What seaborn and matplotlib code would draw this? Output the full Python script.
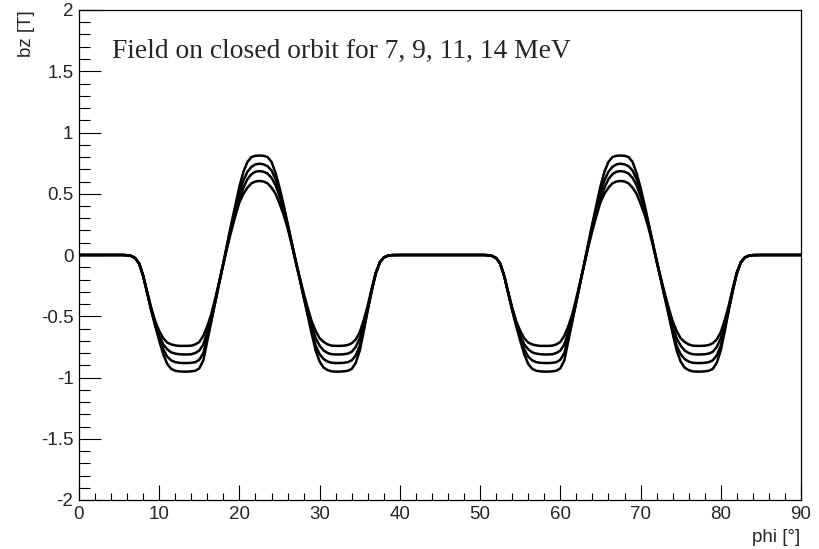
import numpy as np
import pandas as pd
import matplotlib
matplotlib.use("Agg")
import matplotlib.pyplot as plt
from matplotlib.ticker import MultipleLocator
import seaborn as sns

# Azimuthal sampling (deg): two identical 45-degree sectors
phi = np.concatenate([
    [0, 2, 4, 5], np.arange(5.5, 39.01, 0.5), [40, 42],
    [45, 47, 49, 50], np.arange(50.5, 84.01, 0.5), [85, 87],
    [90],
])

energies = ["7 MeV", "9 MeV", "11 MeV", "14 MeV"]

bz_7 = [
    0, 0, 0, 0, 0, -0.002, -0.008, -0.025, -0.07, -0.17, -0.30, -0.43, -0.54, -0.62,
    -0.68, -0.715, -0.73, -0.738, -0.742, -0.742, -0.742, -0.74, -0.73, -0.71, -0.66,
    -0.58, -0.48, -0.35, -0.21, -0.07, 0.07, 0.20, 0.32, 0.43, 0.50, 0.55, 0.585, 0.60,
    0.605, 0.60, 0.585, 0.55, 0.50, 0.42, 0.33, 0.22, 0.09, -0.05, -0.18, -0.31, -0.43,
    -0.54, -0.62, -0.68, -0.71, -0.73, -0.74, -0.742, -0.742, -0.74, -0.735, -0.72,
    -0.69, -0.63, -0.53, -0.41, -0.27, -0.14, -0.06, -0.02, -0.006, -0.001, 0, 0,
    0, 0, 0, 0, 0, -0.002, -0.008, -0.025, -0.07, -0.17, -0.30, -0.43, -0.54, -0.62,
    -0.68, -0.715, -0.73, -0.738, -0.742, -0.742, -0.742, -0.74, -0.73, -0.71, -0.66,
    -0.58, -0.48, -0.35, -0.21, -0.07, 0.07, 0.20, 0.32, 0.43, 0.50, 0.55, 0.585, 0.60,
    0.605, 0.60, 0.585, 0.55, 0.50, 0.42, 0.33, 0.22, 0.09, -0.05, -0.18, -0.31, -0.43,
    -0.54, -0.62, -0.68, -0.71, -0.73, -0.74, -0.742, -0.742, -0.74, -0.735, -0.72,
    -0.69, -0.63, -0.53, -0.41, -0.27, -0.14, -0.06, -0.02, -0.006, -0.001, 0, 0,
    0,
]

bz_9 = [
    0, 0, 0, 0, 0, -0.002, -0.008, -0.025, -0.07, -0.17, -0.31, -0.44, -0.56, -0.66,
    -0.73, -0.77, -0.795, -0.805, -0.81, -0.812, -0.812, -0.81, -0.80, -0.78, -0.73,
    -0.63, -0.51, -0.37, -0.22, -0.07, 0.08, 0.22, 0.35, 0.46, 0.55, 0.62, 0.66, 0.68,
    0.685, 0.68, 0.665, 0.63, 0.57, 0.48, 0.37, 0.24, 0.10, -0.05, -0.19, -0.33, -0.46,
    -0.58, -0.68, -0.74, -0.78, -0.80, -0.81, -0.812, -0.812, -0.81, -0.805, -0.79,
    -0.75, -0.68, -0.57, -0.43, -0.28, -0.15, -0.06, -0.02, -0.006, -0.001, 0, 0,
    0, 0, 0, 0, 0, -0.002, -0.008, -0.025, -0.07, -0.17, -0.31, -0.44, -0.56, -0.66,
    -0.73, -0.77, -0.795, -0.805, -0.81, -0.812, -0.812, -0.81, -0.80, -0.78, -0.73,
    -0.63, -0.51, -0.37, -0.22, -0.07, 0.08, 0.22, 0.35, 0.46, 0.55, 0.62, 0.66, 0.68,
    0.685, 0.68, 0.665, 0.63, 0.57, 0.48, 0.37, 0.24, 0.10, -0.05, -0.19, -0.33, -0.46,
    -0.58, -0.68, -0.74, -0.78, -0.80, -0.81, -0.812, -0.812, -0.81, -0.805, -0.79,
    -0.75, -0.68, -0.57, -0.43, -0.28, -0.15, -0.06, -0.02, -0.006, -0.001, 0, 0,
    0,
]

bz_11 = [
    0, 0, 0, 0, 0, -0.002, -0.008, -0.025, -0.07, -0.17, -0.31, -0.45, -0.57, -0.68,
    -0.77, -0.83, -0.86, -0.875, -0.88, -0.882, -0.882, -0.88, -0.875, -0.855, -0.80,
    -0.67, -0.53, -0.38, -0.22, -0.07, 0.09, 0.24, 0.38, 0.51, 0.61, 0.68, 0.72, 0.74,
    0.745, 0.74, 0.725, 0.69, 0.62, 0.52, 0.39, 0.25, 0.10, -0.05, -0.19, -0.34, -0.48,
    -0.62, -0.74, -0.81, -0.85, -0.87, -0.88, -0.882, -0.882, -0.88, -0.875, -0.86,
    -0.82, -0.74, -0.60, -0.44, -0.29, -0.15, -0.06, -0.02, -0.006, -0.001, 0, 0,
    0, 0, 0, 0, 0, -0.002, -0.008, -0.025, -0.07, -0.17, -0.31, -0.45, -0.57, -0.68,
    -0.77, -0.83, -0.86, -0.875, -0.88, -0.882, -0.882, -0.88, -0.875, -0.855, -0.80,
    -0.67, -0.53, -0.38, -0.22, -0.07, 0.09, 0.24, 0.38, 0.51, 0.61, 0.68, 0.72, 0.74,
    0.745, 0.74, 0.725, 0.69, 0.62, 0.52, 0.39, 0.25, 0.10, -0.05, -0.19, -0.34, -0.48,
    -0.62, -0.74, -0.81, -0.85, -0.87, -0.88, -0.882, -0.882, -0.88, -0.875, -0.86,
    -0.82, -0.74, -0.60, -0.44, -0.29, -0.15, -0.06, -0.02, -0.006, -0.001, 0, 0,
    0,
]

bz_14 = [
    0, 0, 0, 0, 0, -0.002, -0.008, -0.025, -0.07, -0.17, -0.31, -0.45, -0.58, -0.70,
    -0.81, -0.89, -0.93, -0.945, -0.95, -0.952, -0.952, -0.95, -0.945, -0.925, -0.86,
    -0.70, -0.54, -0.38, -0.22, -0.06, 0.10, 0.26, 0.41, 0.56, 0.68, 0.76, 0.80, 0.81,
    0.812, 0.81, 0.80, 0.76, 0.67, 0.55, 0.41, 0.26, 0.11, -0.04, -0.19, -0.34, -0.49,
    -0.64, -0.78, -0.87, -0.92, -0.94, -0.95, -0.952, -0.952, -0.95, -0.945, -0.93,
    -0.88, -0.78, -0.62, -0.45, -0.29, -0.15, -0.06, -0.02, -0.006, -0.001, 0, 0,
    0, 0, 0, 0, 0, -0.002, -0.008, -0.025, -0.07, -0.17, -0.31, -0.45, -0.58, -0.70,
    -0.81, -0.89, -0.93, -0.945, -0.95, -0.952, -0.952, -0.95, -0.945, -0.925, -0.86,
    -0.70, -0.54, -0.38, -0.22, -0.06, 0.10, 0.26, 0.41, 0.56, 0.68, 0.76, 0.80, 0.81,
    0.812, 0.81, 0.80, 0.76, 0.67, 0.55, 0.41, 0.26, 0.11, -0.04, -0.19, -0.34, -0.49,
    -0.64, -0.78, -0.87, -0.92, -0.94, -0.95, -0.952, -0.952, -0.95, -0.945, -0.93,
    -0.88, -0.78, -0.62, -0.45, -0.29, -0.15, -0.06, -0.02, -0.006, -0.001, 0, 0,
    0,
]

series = [bz_7, bz_9, bz_11, bz_14]
df = pd.concat(
    [pd.DataFrame({"phi": phi, "bz": vals, "energy": e}) for e, vals in zip(energies, series)],
    ignore_index=True,
)

sns.set_style("white")
plt.rcParams["font.family"] = ["Liberation Sans", "DejaVu Sans"]

fig = plt.figure(figsize=(8.2, 5.49), dpi=100)
ax = fig.add_axes([79 / 820, 49 / 549, 722 / 820, 490 / 549])

sns.lineplot(
    data=df, x="phi", y="bz", hue="energy", hue_order=energies,
    palette=["black"] * 4, linewidth=1.8, legend=False, ax=ax, estimator=None, sort=False,
)

ax.set_xlim(0, 90)
ax.set_ylim(-2, 2)
ax.set_xlabel("")
ax.set_ylabel("")

ax.xaxis.set_major_locator(MultipleLocator(10))
ax.xaxis.set_minor_locator(MultipleLocator(2))
ax.set_yticks(np.arange(-2, 2.01, 0.5))
ax.set_yticklabels(["-2", "-1.5", "-1", "-0.5", "0", "0.5", "1", "1.5", "2"])
ax.yaxis.set_minor_locator(MultipleLocator(0.1))

ax.tick_params(axis="x", which="major", direction="in", length=10.8, width=0.8,
               labelsize=13.5, pad=4, bottom=True, top=False, color="black")
ax.tick_params(axis="x", which="minor", direction="in", length=5.4, width=0.8,
               bottom=True, top=False, color="black")
ax.tick_params(axis="y", which="major", direction="in", length=15.8, width=0.8,
               labelsize=13.5, pad=4, left=True, right=False, color="black")
ax.tick_params(axis="y", which="minor", direction="in", length=7.9, width=0.8,
               left=True, right=False, color="black")

for s in ax.spines.values():
    s.set_linewidth(0.9)
    s.set_color("black")

fig.text(112 / 820, 1 - 58 / 549, "Field on closed orbit for 7, 9, 11, 14 MeV",
         family=["Liberation Serif", "DejaVu Serif"], fontsize=19.8, ha="left", va="baseline")
fig.text(27 / 820, 1 - 10 / 549, "bz [T]", rotation=90, ha="center", va="top", fontsize=13.5)
fig.text(800 / 820, 1 - 537 / 549, "phi [°]", ha="right", va="center", fontsize=13.5)

fig.savefig("out.png", dpi=100, facecolor="white")
